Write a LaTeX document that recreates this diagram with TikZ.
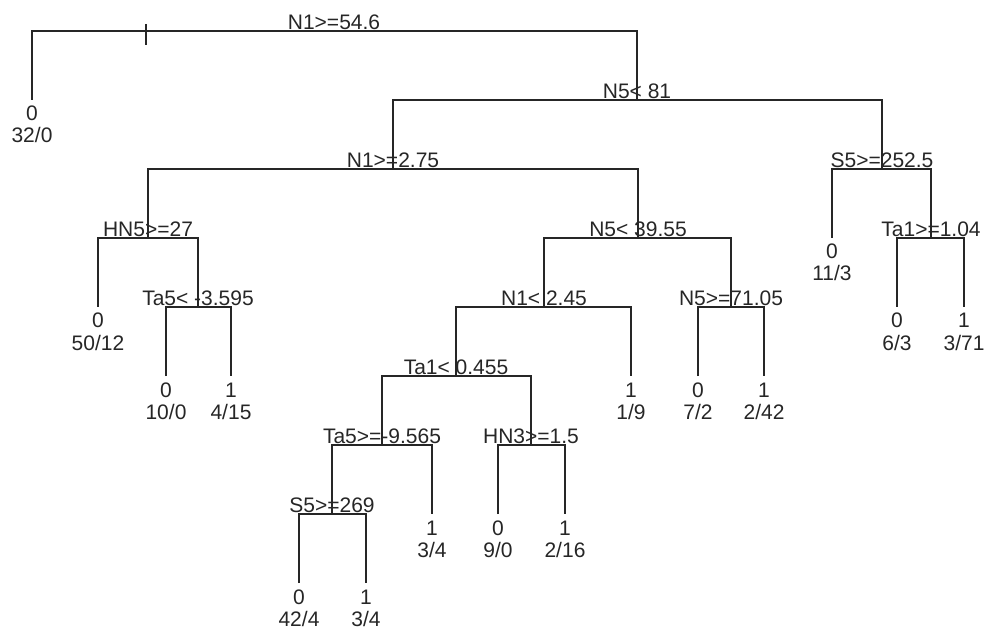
\documentclass[tikz,border=0pt]{standalone}
\usepackage{fontspec}
\setmainfont{Liberation Sans}
\tikzset{
  edge/.style={line width=1.1pt, draw=black!85},
  lab/.style={anchor=base, inner sep=0pt, outer sep=0pt, font=\fontsize{15.75}{18}\selectfont, text=black!85}
}
\newcommand\tsplit[4]{%
  \coordinate (#1) at (#2,#3);
  \node[lab] (#1-t) at ([yshift=1.1pt]#1) {#4};
}
\newcommand\tleaf[5]{%
  \coordinate (#1) at (#2,#3);
  \node[lab] (#1-c) at ([yshift=-15.75pt]#1) {#4};
  \node[lab] (#1-n) at ([yshift=-32.25pt]#1) {#5};
}
\begin{document}
\begin{tikzpicture}[x=0.75pt,y=-0.75pt]
\useasboundingbox (0,0) rectangle (987,630);
% split nodes
\tsplit{root}{334}{31}{N1>=54.6}
\tsplit{n5a}{637}{100}{N5< 81}
\tsplit{n1a}{393}{169}{N1>=2.75}
\tsplit{s5a}{882}{169}{S5>=252.5}
\tsplit{hn5}{148}{238}{HN5>=27}
\tsplit{n5b}{638}{238}{N5< 39.55}
\tsplit{ta1a}{931}{238}{Ta1>=1.04}
\tsplit{ta5a}{198}{307}{Ta5< -3.595}
\tsplit{n1b}{544}{307}{N1< 2.45}
\tsplit{n5c}{731}{307}{N5>=71.05}
\tsplit{ta1b}{456}{376}{Ta1< 0.455}
\tsplit{ta5b}{382}{445}{Ta5>=-9.565}
\tsplit{hn3}{531}{445}{HN3>=1.5}
\tsplit{s5b}{332}{514}{S5>=269}
% leaves
\tleaf{l1}{32}{100}{0}{32/0}
\tleaf{l2}{98}{307}{0}{50/12}
\tleaf{l3}{166}{376}{0}{10/0}
\tleaf{l4}{231}{376}{1}{4/15}
\tleaf{l5}{631}{376}{1}{1/9}
\tleaf{l6}{698}{376}{0}{7/2}
\tleaf{l7}{764}{376}{1}{2/42}
\tleaf{l8}{432}{514}{1}{3/4}
\tleaf{l9}{498}{514}{0}{9/0}
\tleaf{l10}{565}{514}{1}{2/16}
\tleaf{l11}{299}{583}{0}{42/4}
\tleaf{l12}{366}{583}{1}{3/4}
\tleaf{l13}{832}{238}{0}{11/3}
\tleaf{l14}{897}{307}{0}{6/3}
\tleaf{l15}{964}{307}{1}{3/71}
% tick
\coordinate (tickT) at (146,24);
\coordinate (tickB) at (146,45);
\draw[edge] (tickT) -- (tickB);
% branches
\draw[edge] (l1) |- (root) -| (n5a);
\draw[edge] (n1a) |- (n5a) -| (s5a);
\draw[edge] (hn5) |- (n1a) -| (n5b);
\draw[edge] (l2) |- (hn5) -| (ta5a);
\draw[edge] (l3) |- (ta5a) -| (l4);
\draw[edge] (n1b) |- (n5b) -| (n5c);
\draw[edge] (ta1b) |- (n1b) -| (l5);
\draw[edge] (l6) |- (n5c) -| (l7);
\draw[edge] (ta5b) |- (ta1b) -| (hn3);
\draw[edge] (s5b) |- (ta5b) -| (l8);
\draw[edge] (l9) |- (hn3) -| (l10);
\draw[edge] (l11) |- (s5b) -| (l12);
\draw[edge] (l13) |- (s5a) -| (ta1a);
\draw[edge] (l14) |- (ta1a) -| (l15);
\end{tikzpicture}
\end{document}
